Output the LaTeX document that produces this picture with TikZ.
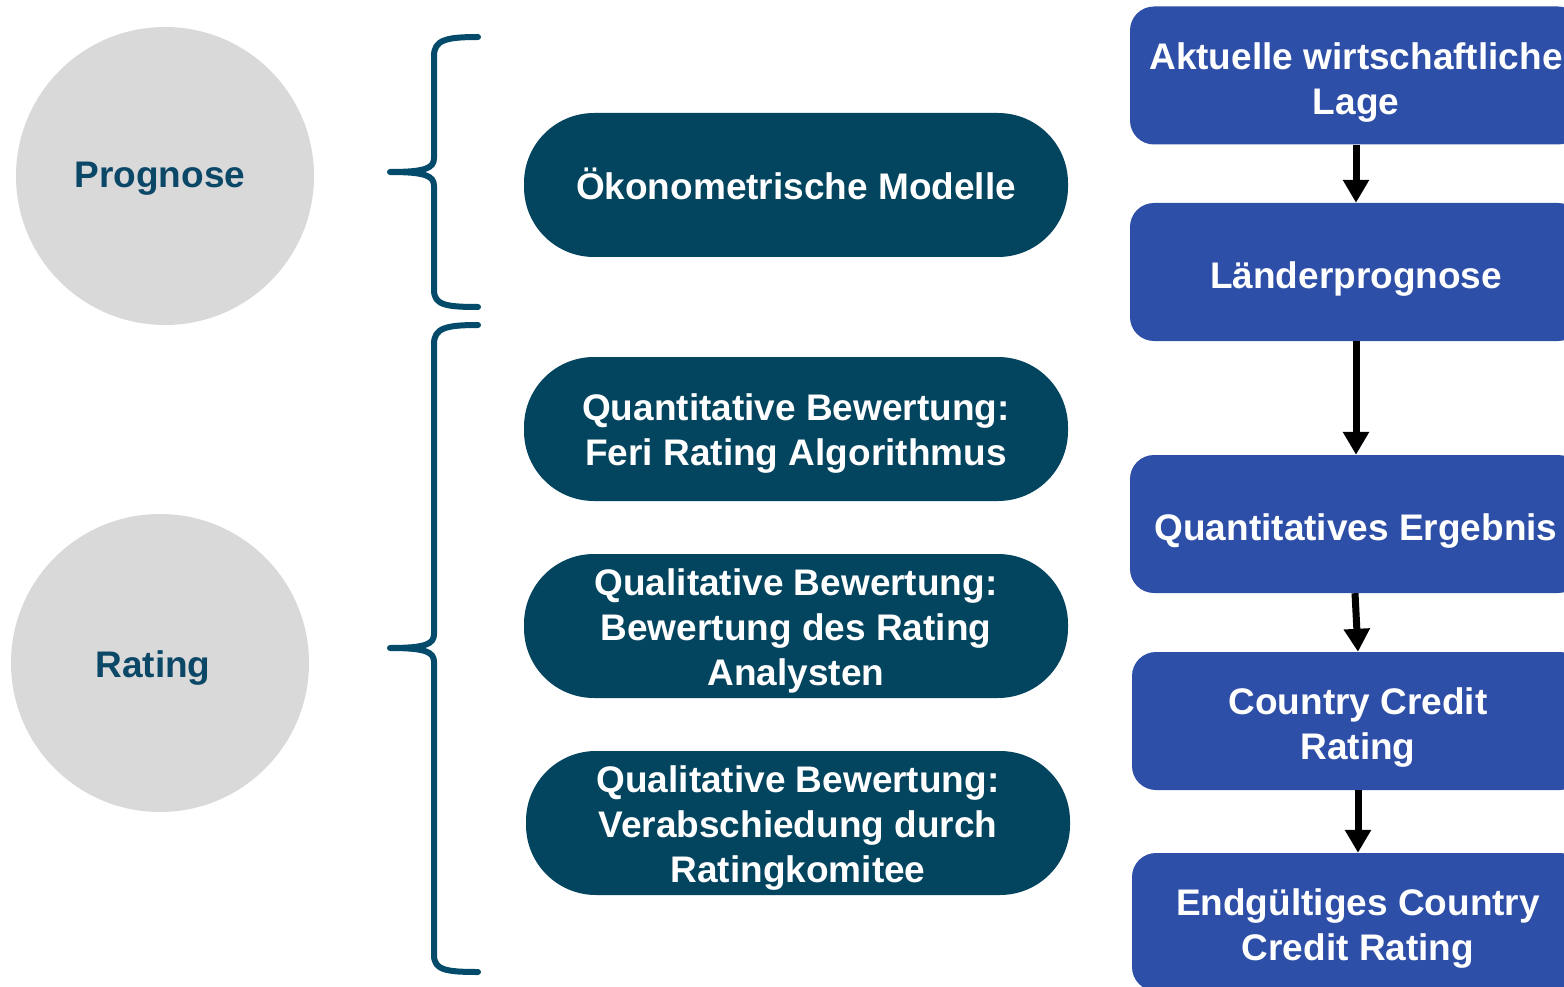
\documentclass[tikz,border=0pt]{standalone}
\usepackage{fontspec}
\setmainfont{Liberation Sans}
\usetikzlibrary{arrows.meta}
\definecolor{circfill}{HTML}{D9D9D9}
\definecolor{tealtext}{HTML}{0B4767}
\definecolor{pillfill}{HTML}{03445F}
\definecolor{bracecol}{HTML}{044A6B}
\definecolor{boxblue}{HTML}{2E4FA7}
\tikzset{
  lbl/.style={font=\bfseries\fontsize{37}{45}\selectfont, align=center, inner sep=0pt},
  circ/.style={circle, fill=circfill, draw=none, inner sep=0pt},
  circtext/.style={lbl, text=tealtext},
  pill/.style={rectangle, rounded corners=70pt, fill=pillfill, draw=none,
    minimum width=544pt, minimum height=144pt, inner sep=0pt},
  flowbox/.style={rectangle, rounded corners=24pt, fill=boxblue, draw=none,
    minimum width=452pt, minimum height=138pt, inner sep=0pt},
  whitetext/.style={lbl, text=white},
  brace/.style={draw=bracecol, line width=6pt, line cap=round, line join=round},
  flow/.style={draw=black, line width=7pt, -{Triangle[length=23pt,width=25pt]}}
}
\begin{document}
\begin{tikzpicture}[x=1pt, y=-1pt]
\clip (0,0) rectangle (1564,987);
\fill[white] (0,0) rectangle (1564,987);

% phase circles
\node[circ, minimum size=298pt] (prog) at (165,176) {};
\node[circtext] (prog-t) at ([xshift=-5pt,yshift=-3pt]prog.center) {Prognose};
\node[circ, minimum size=298pt] (rat) at (160,663) {};
\node[circtext] (rat-t) at ([xshift=-7pt,yshift=-5pt]rat.center) {Rating};

% braces
\draw[brace] (478,37) .. controls (446,37) and (434,40) .. (434,56) -- (434,158)
  .. controls (434,168) and (426,172) .. (390,172)
  .. controls (426,172) and (434,176) .. (434,186) -- (434,290)
  .. controls (434,305) and (446,307) .. (478,307);
\draw[brace] (478,325) .. controls (446,325) and (434,328) .. (434,344) -- (434,634)
  .. controls (434,644) and (426,648) .. (390,648)
  .. controls (426,648) and (434,652) .. (434,662) -- (434,955)
  .. controls (434,970) and (446,972) .. (478,972);

% methods
\node[pill] (oeko) at (796,185) {};
\node[whitetext] (oeko-t) at ([yshift=1pt]oeko.center) {Ökonometrische Modelle};
\node[pill] (quant) at (796,429) {};
\node[whitetext] (quant-t) at ([yshift=-5pt]quant.center) {Quantitative Bewertung:\\Feri Rating Algorithmus};
\node[pill] (qual1) at (796,626) {};
\node[whitetext] (qual1-t) at ([yshift=-5pt]qual1.center) {Qualitative Bewertung:\\Bewertung des Rating\\Analysten};
\node[pill] (qual2) at (798,823) {};
\node[whitetext] (qual2-t) at ([yshift=-5pt]qual2.center) {Qualitative Bewertung:\\Verabschiedung durch\\Ratingkomitee};

% process chain
\node[flowbox] (lage) at (1356,75.5) {};
\node[whitetext] (lage-t) at ([yshift=-7pt]lage.center) {Aktuelle wirtschaftliche\\Lage};
\node[flowbox] (land) at (1356,272) {};
\node[whitetext] (land-t) at ([yshift=-7pt]land.center) {Länderprognose};
\node[flowbox] (erg) at (1356,524) {};
\node[whitetext] (erg-t) at ([yshift=-7pt]erg.center) {Quantitatives Ergebnis};
\node[flowbox] (ccr) at (1358,721) {};
\node[whitetext] (ccr-t) at ([yshift=-7pt]ccr.center) {Country Credit\\Rating};
\node[flowbox] (final) at (1358,922) {};
\node[whitetext] (final-t) at ([yshift=-7pt]final.center) {Endgültiges Country\\Credit Rating};

\draw[flow] (lage.south) -- (land.north);
\draw[flow] (land.south) -- (erg.north);
\draw[flow] ([xshift=-1pt]erg.south) -- (ccr.north);
\draw[flow] (ccr.south) -- (final.north);
\end{tikzpicture}
\end{document}
